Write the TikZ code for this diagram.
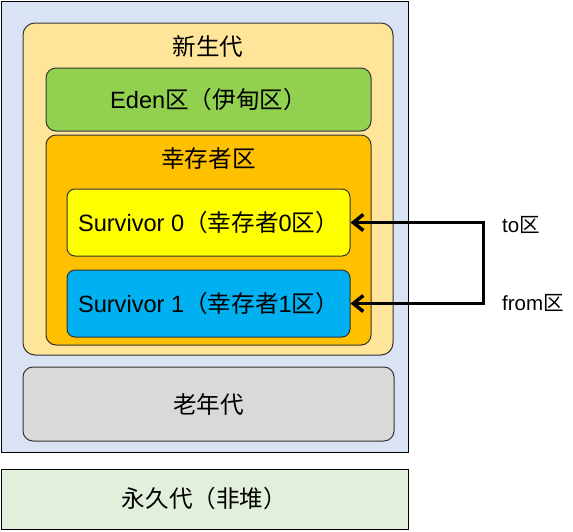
\documentclass[tikz,border=0pt]{standalone}
\usepackage{fontspec}
\setmainfont{Liberation Sans}
\newfontfamily\cjk{Noto Sans CJK SC}
\usetikzlibrary{arrows.meta}
\definecolor{heapblue}{HTML}{DAE3F3}
\definecolor{younglight}{HTML}{FFE599}
\definecolor{edengreen}{HTML}{92D050}
\definecolor{survorange}{HTML}{FFC000}
\definecolor{survyellow}{HTML}{FFFF00}
\definecolor{survblue}{HTML}{00B0F0}
\definecolor{oldgray}{HTML}{D9D9D9}
\definecolor{permgreen}{HTML}{E2EFDA}
\definecolor{edgegray}{HTML}{333333}
\begin{document}
\begin{tikzpicture}[x=1pt,y=-1pt,
  box/.style={draw=edgegray, line width=1pt, rounded corners=10pt, inner sep=0pt},
  sq/.style={draw=black, line width=1pt, inner sep=0pt},
  txt/.style={font=\fontsize{23.6}{28}\selectfont, inner sep=0pt},
  lbl/.style={font=\fontsize{20.5}{24}\selectfont, inner sep=0pt, anchor=west},
  arr/.style={line width=3.5pt, {Straight Barb[length=10pt,width=16pt]}-{Straight Barb[length=10pt,width=16pt]}}]
\useasboundingbox (0,0) rectangle (573,531);
\node[sq, fill=heapblue, minimum width=407pt, minimum height=451pt] (heap) at (204.5,226.5) {};
\node[box, rounded corners=12pt, fill=younglight, minimum width=370pt, minimum height=332pt] (young) at (208,189) {};
\node[txt] (youngtxt) at (208,47) {\cjk 新生代};
\node[box, fill=edengreen, minimum width=325pt, minimum height=63pt, txt] (eden) at (208.5,99.5) {Eden{\cjk 区（伊甸区）}};
\node[box, fill=survorange, minimum width=325pt, minimum height=210pt] (surv) at (208.5,240) {};
\node[txt] (survtxt) at (208.5,159) {\cjk 幸存者区};
\node[box, rounded corners=8pt, fill=survyellow, minimum width=283pt, minimum height=67pt, txt] (s0) at (208.5,222.5) {Survivor 0{\cjk （幸存者}0{\cjk 区）}};
\node[box, rounded corners=8pt, fill=survblue, minimum width=283pt, minimum height=67pt, txt] (s1) at (208.5,303.5) {Survivor 1{\cjk （幸存者}1{\cjk 区）}};
\node[box, fill=oldgray, minimum width=371pt, minimum height=74pt, txt] (old) at (208.5,404) {\cjk 老年代};
\node[sq, fill=permgreen, minimum width=407pt, minimum height=60pt, txt] (perm) at (204.5,499) {\cjk 永久代（非堆）};
\draw[arr] (s0.east) -- ++(133,0) |- (s1.east);
\node[lbl] (tolbl) at (502,225) {to{\cjk 区}};
\node[lbl] (fromlbl) at (502,303) {from{\cjk 区}};
\end{tikzpicture}
\end{document}
